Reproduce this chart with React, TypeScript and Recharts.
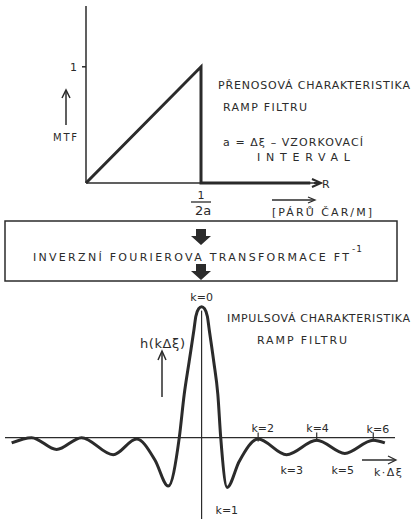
import React from 'react';
import { LineChart, Line, XAxis, YAxis, ReferenceLine, ReferenceDot } from 'recharts';

const INK = '#2b2b2b';
const FONT = '"DejaVu Sans", sans-serif';

// ramp filter transfer function: R in units of 1/2a, MTF
const rampR = [0, 1, 1, 1.95];
const rampMtf = [0, 1, 0, 0];
const rampTicksR = [1];
const rampTicksMtf = [1];

// impulse response of the ramp filter, k in multiples of Δξ (as hand drawn)
const impulseK = [
  -6.55, -5.86, -5.0, -4.14, -3.05, -2.24, -1.61, -1.15, -0.77, -0.6, -0.43, -0.26, -0.2, -0.1, 0,
  0.1, 0.2, 0.26, 0.42, 0.56, 0.66, 0.88, 1.3, 1.95, 2.93, 3.97, 4.94, 5.92, 6.32,
];
const impulseH = [
  -0.04, 0, -0.09, 0, -0.13, -0.01, -0.17, -0.37, 0, 0.33, 0.58, 0.83, 0.925, 0.985, 1,
  0.985, 0.925, 0.83, 0.58, 0.33, 0, -0.38, -0.18, -0.01, -0.13, -0.02, -0.12, -0.02, -0.04,
];

// k annotations (text + anchor in chart units)
const kLabels = ['k=0', 'k=1', 'k=2', 'k=3', 'k=4', 'k=5', 'k=6'];
const kLabelX = [0, 0.87, 2.11, 3.11, 4.0, 4.87, 6.08];
const kLabelY = [1.074, -0.555, 0.074, -0.247, 0.074, -0.247, 0.066];
const kTickX = [1.95, 3.97, 5.92];

const rampData = rampR.map((r, i) => ({ r, mtf: rampMtf[i] }));
const impulseData = impulseK.map((k, i) => ({ k, h: impulseH[i] }));

const FractionTick = (props: any) => {
  const { x, y } = props;
  return (
    <g fill={INK} fontFamily={FONT}>
      <text x={x} y={y + 14} textAnchor="middle" fontSize={11}>1</text>
      <line x1={x - 10} x2={x + 10} y1={y + 17} y2={y + 17} stroke={INK} strokeWidth={1.3} />
      <text x={x + 2} y={y + 30} textAnchor="middle" fontSize={13}>2a</text>
    </g>
  );
};

const Txt = ({ x, y, w, size = 11, children }: any) => (
  <text x={x} y={y} textLength={w} lengthAdjust="spacing" fontSize={size} fill={INK} fontFamily={FONT}>
    {children}
  </text>
);

export default function App() {
  return (
    <div style={{ position: 'fixed', left: 0, top: 0, width: 414, height: 519, background: '#fff', overflow: 'hidden' }}>
      <div style={{ position: 'absolute', left: 0, top: 0 }}>
        <LineChart width={414} height={220} data={rampData} margin={{ top: 6, right: 98, bottom: 7, left: 46 }}>
          <XAxis
            type="number"
            dataKey="r"
            domain={[0, 2]}
            ticks={rampTicksR}
            height={30}
            tickSize={0}
            tickLine={false}
            axisLine={{ stroke: INK, strokeWidth: 1.5 }}
            tick={<FractionTick />}
          />
          <YAxis
            type="number"
            domain={[0, 1.523]}
            ticks={rampTicksMtf}
            width={40}
            tickSize={4}
            tickMargin={5}
            axisLine={{ stroke: INK, strokeWidth: 1.5 }}
            tickLine={{ stroke: INK, strokeWidth: 1.5 }}
            tick={{ fill: INK, fontSize: 11, fontFamily: FONT }}
          />
          <Line dataKey="mtf" type="linear" stroke={INK} strokeWidth={3} dot={false} isAnimationActive={false} />
        </LineChart>
      </div>

      <div style={{ position: 'absolute', left: 0, top: 290 }}>
        <LineChart width={414} height={229} data={impulseData} margin={{ top: 10, right: 19, bottom: 0, left: 5 }}>
          <XAxis type="number" dataKey="k" domain={[-6.78, 6.67]} hide />
          <YAxis type="number" domain={[-0.621, 1.051]} hide />
          <ReferenceLine y={0} stroke={INK} strokeWidth={1.2} />
          <ReferenceLine segment={[{ x: 0, y: -0.621 }, { x: 0, y: 0.97 }]} stroke={INK} strokeWidth={1.2} />
          {kTickX.map((x) => (
            <ReferenceLine key={x} segment={[{ x, y: -0.03 }, { x, y: 0.04 }]} stroke={INK} strokeWidth={1.2} />
          ))}
          <Line dataKey="h" type="monotone" stroke={INK} strokeWidth={3} dot={false} isAnimationActive={false} />
          {kLabels.map((t, i) => (
            <ReferenceDot
              key={t}
              x={kLabelX[i]}
              y={kLabelY[i]}
              r={0}
              fill="none"
              stroke="none"
              ifOverflow="visible"
              label={{ value: t, position: 'center', fill: INK, fontSize: 11, fontFamily: FONT }}
            />
          ))}
        </LineChart>
      </div>

      <svg width={414} height={519} style={{ position: 'absolute', left: 0, top: 0, pointerEvents: 'none' }}>
        {/* top chart notes */}
        <Txt x={218} y={89} w={192}>PŘENOSOVÁ CHARAKTERISTIKA</Txt>
        <Txt x={223} y={111} w={84}>RAMP FILTRU</Txt>
        <Txt x={223} y={146} w={140}>a = Δξ – VZORKOVACÍ</Txt>
        <Txt x={257} y={161} w={93}>INTERVAL</Txt>
        <Txt x={53} y={141} w={24} size={10}>MTF</Txt>
        <line x1={66} y1={125} x2={66} y2={91} stroke={INK} strokeWidth={1.5} />
        <polyline points="62,98 66,90 70,98" fill="none" stroke={INK} strokeWidth={1.5} />
        <line x1={314} y1={183} x2={320} y2={183} stroke={INK} strokeWidth={2} />
        <polyline points="312,179 321,183 312,187" fill="none" stroke={INK} strokeWidth={2} />
        <Txt x={322} y={188} w={8}>R</Txt>
        <line x1={272} y1={200} x2={314} y2={200} stroke={INK} strokeWidth={1.3} />
        <polyline points="308,197 315,200 308,203" fill="none" stroke={INK} strokeWidth={1.3} />
        <Txt x={272} y={216} w={100}>[PÁRŮ ČAR/M]</Txt>

        {/* transform box */}
        <rect x={5} y={221} width={392} height={60} fill="none" stroke={INK} strokeWidth={1.5} />
        <polygon points="196,229 206,229 206,236 211,236 201,245 191,236 196,236" fill={INK} />
        <polygon points="196,264 206,264 206,271 211,271 201,280 191,271 196,271" fill={INK} />
        <Txt x={33} y={261} w={316}>INVERZNÍ FOURIEROVA TRANSFORMACE FT</Txt>
        <Txt x={352} y={252} w={10} size={9}>-1</Txt>

        {/* bottom chart notes */}
        <Txt x={227} y={322} w={183}>IMPULSOVÁ CHARAKTERISTIKA</Txt>
        <Txt x={257} y={344} w={90}>RAMP FILTRU</Txt>
        <Txt x={140} y={348} w={45} size={13}>h(kΔξ)</Txt>
        <line x1={162} y1={397} x2={162} y2={352} stroke={INK} strokeWidth={1.5} />
        <polyline points="158,360 162,351 166,360" fill="none" stroke={INK} strokeWidth={1.5} />
        <line x1={362} y1={460} x2={395} y2={460} stroke={INK} strokeWidth={1.3} />
        <polyline points="388,456 396,460 388,464" fill="none" stroke={INK} strokeWidth={1.3} />
        <Txt x={374} y={476} w={28}>k·Δξ</Txt>
      </svg>
    </div>
  );
}
